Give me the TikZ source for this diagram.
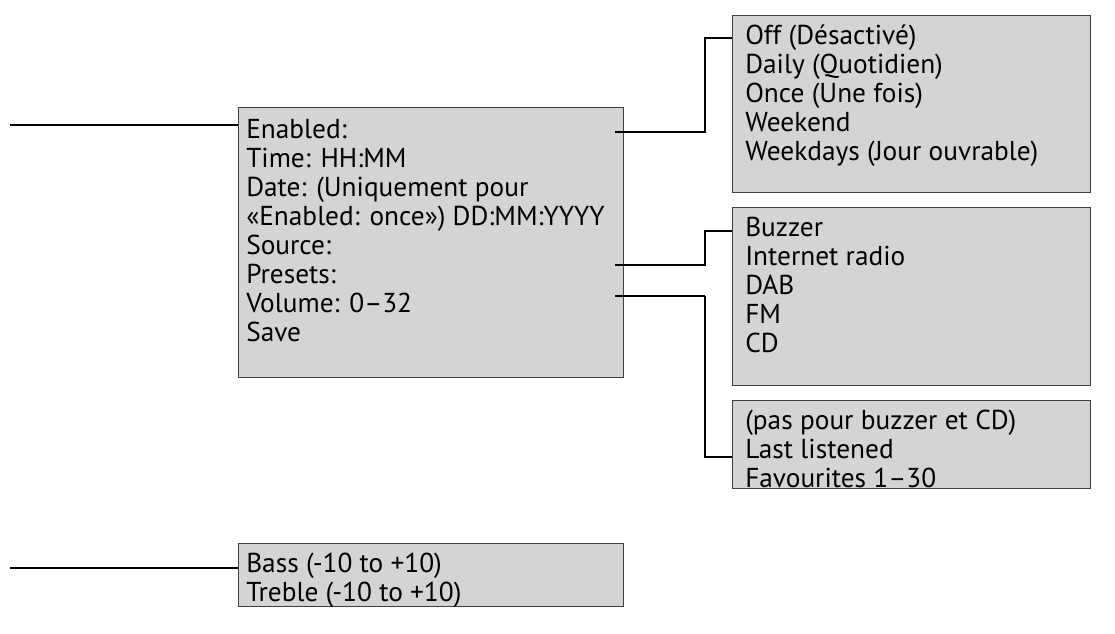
\documentclass[tikz,border=0pt]{standalone}
\usepackage{fontspec}
\setmainfont{PT Sans}
\begin{document}
\begin{tikzpicture}[x=0.75pt,y=-0.75pt,
  box/.style={draw=black!75,line width=1.1pt,fill=black!17,anchor=north west,inner sep=0pt},
  txt/.style={anchor=north west,align=left,inner sep=0pt,font=\fontsize{20.5}{21.75}\selectfont},
  ln/.style={line width=1.8pt},
  thin/.style={line width=1pt}]
\useasboundingbox (0,0) rectangle (1115,634);
\node[box,minimum width=385*0.75pt,minimum height=270*0.75pt] (m) at (238,107) {};
\node[txt] (mt) at (246,119) {Enabled:\\Time: HH:MM\\Date: (Uniquement pour\\«Enabled: once») DD:MM:YYYY\\Source:\\Presets:\\Volume: 0--32\\Save};
\node[box,minimum width=358*0.75pt,minimum height=177*0.75pt] (b1) at (732,15) {};
\node[txt] at (745,25) {Off (Désactivé)\\Daily (Quotidien)\\Once (Une fois)\\Weekend\\Weekdays (Jour ouvrable)};
\node[box,minimum width=358*0.75pt,minimum height=178*0.75pt] (b2) at (732,207) {};
\node[txt] at (745,217) {Buzzer\\Internet radio\\DAB\\FM\\CD};
\node[box,minimum width=358*0.75pt,minimum height=88*0.75pt] (b3) at (732,400) {};
\node[txt] at (745,410) {(pas pour buzzer et CD)\\Last listened\\Favourites 1--30};
\node[box,minimum width=385*0.75pt,minimum height=63*0.75pt] (b4) at (238,543) {};
\node[txt] at (246,553) {Bass (-10 to +10)\\Treble (-10 to +10)};
\coordinate (l1) at (10,125);
\coordinate (l2) at (10,568);
\coordinate (e) at (615,132);
\coordinate (s) at (615,265);
\coordinate (p) at (615,296);
\draw[ln] (l1) -- (l1 -| m.west);
\draw[ln] (l2) -- (l2 -| b4.west);
\draw[ln] (e) -- (705,132) -- (705,38) -- (b1.west |- 0,38);
\draw[ln] (s) -- (705,265) -- (705,231) -- (b2.west |- 0,231);
\draw[ln] (p) -- (705,296);
\draw[thin] (705,296) -- (705,457) -- (b3.west |- 0,457);
\end{tikzpicture}
\end{document}
